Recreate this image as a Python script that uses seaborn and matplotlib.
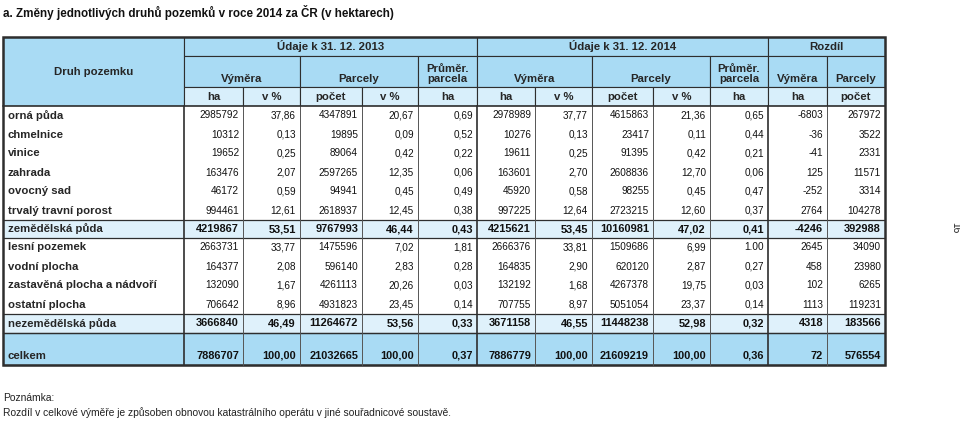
import numpy as np
import pandas as pd
import matplotlib.pyplot as plt
import seaborn as sns
from matplotlib.patches import Rectangle

# ── Data ───────────────────────────────────────────────────────────────────────
TITLE = 'a. Změny jednotlivých druhů pozemků v roce 2014 za ČR (v hektarech)'

labels = ['orná půda', 'chmelnice', 'vinice', 'zahrada', 'ovocný sad',
          'trvalý travní porost', 'zemědělská půda', 'lesní pozemek',
          'vodní plocha', 'zastavěná plocha a nádvoří', 'ostatní plocha',
          'nezemědělská půda', 'celkem']

ha_2013      = [2985792, 10312, 19652, 163476, 46172, 994461, 4219867,
                2663731, 164377, 132090, 706642, 3666840, 7886707]
pct_ha_2013  = ['37,86', '0,13', '0,25', '2,07', '0,59', '12,61', '53,51',
                '33,77', '2,08', '1,67', '8,96', '46,49', '100,00']
cnt_2013     = [4347891, 19895, 89064, 2597265, 94941, 2618937, 9767993,
                1475596, 596140, 4261113, 4931823, 11264672, 21032665]
pct_cnt_2013 = ['20,67', '0,09', '0,42', '12,35', '0,45', '12,45', '46,44',
                '7,02', '2,83', '20,26', '23,45', '53,56', '100,00']
avg_2013     = ['0,69', '0,52', '0,22', '0,06', '0,49', '0,38', '0,43',
                '1,81', '0,28', '0,03', '0,14', '0,33', '0,37']

ha_2014      = [2978989, 10276, 19611, 163601, 45920, 997225, 4215621,
                2666376, 164835, 132192, 707755, 3671158, 7886779]
pct_ha_2014  = ['37,77', '0,13', '0,25', '2,70', '0,58', '12,64', '53,45',
                '33,81', '2,90', '1,68', '8,97', '46,55', '100,00']
cnt_2014     = [4615863, 23417, 91395, 2608836, 98255, 2723215, 10160981,
                1509686, 620120, 4267378, 5051054, 11448238, 21609219]
pct_cnt_2014 = ['21,36', '0,11', '0,42', '12,70', '0,45', '12,60', '47,02',
                '6,99', '2,87', '19,75', '23,37', '52,98', '100,00']
avg_2014     = ['0,65', '0,44', '0,21', '0,06', '0,47', '0,37', '0,41',
                '1.00', '0,27', '0,03', '0,14', '0,32', '0,36']

diff_ha  = [-6803, -36, -41, 125, -252, 2764, -4246, 2645, 458, 102, 1113, 4318, 72]
diff_cnt = [267972, 3522, 2331, 11571, 3314, 104278, 392988, 34090, 23980,
            6265, 119231, 183566, 576554]

group_heads = ['Údaje k 31. 12. 2013', 'Údaje k 31. 12. 2014', 'Rozdíl']
sub_heads   = ['Výměra', 'Parcely', 'Průměr.\nparcela']
unit_heads  = ['ha', 'v %', 'počet', 'v %', 'ha',
               'ha', 'v %', 'počet', 'v %', 'ha', 'ha', 'počet']
NOTE = ['Poznámka:',
        'Rozdíl v celkové výměře je způsoben obnovou katastrálního operátu v jiné souřadnicové soustavě.']

df = pd.DataFrame({
    'ha13': ha_2013, 'p13': pct_ha_2013, 'c13': cnt_2013, 'pc13': pct_cnt_2013, 'a13': avg_2013,
    'ha14': ha_2014, 'p14': pct_ha_2014, 'c14': cnt_2014, 'pc14': pct_cnt_2014, 'a14': avg_2014,
    'dha': diff_ha, 'dc': diff_cnt}, index=labels)
kind = ['row'] * 6 + ['sum'] + ['row'] * 4 + ['sum', 'total']

# ── Layout (pixels) ────────────────────────────────────────────────────────────
col_x   = [3, 184, 243, 300, 362, 418, 477, 535, 592, 653, 710, 768, 827, 885]
head_y  = [37, 56, 87, 106]
row_h   = [19] * 6 + [18] + [19] * 5 + [32]
row_y   = np.concatenate([[106], 106 + np.cumsum(row_h)])

HEAD   = '#a9dbf4'
HEAD2  = '#d8effb'
SUMROW = '#dff1fb'
LINE   = '#2e2e2e'

sns.set_theme(style='white')
plt.rcParams['font.family'] = ['Liberation Sans', 'DejaVu Sans']

fig = plt.figure(figsize=(9.6, 4.22), dpi=100)
ax = fig.add_axes([0, 0, 1, 1])
ax.set_xlim(0, 960); ax.set_ylim(422, 0); ax.axis('off')

def cell(x0, x1, y0, y1, fc, lw=0.8):
    ax.add_patch(Rectangle((x0, y0), x1 - x0, y1 - y0, facecolor=fc,
                           edgecolor=LINE, linewidth=lw))

ax.text(3, 12, TITLE, fontsize=8.4, fontweight='bold', va='center', color='#111')

# ── Header ─────────────────────────────────────────────────────────────────────
cell(col_x[0], col_x[1], head_y[0], head_y[3], HEAD)
ax.text((col_x[0] + col_x[1]) / 2, 72, 'Druh pozemku', ha='center', va='center',
        fontsize=8.2, fontweight='bold')

spans = [(1, 6), (6, 11), (11, 13)]
for (a, b), txt in zip(spans, group_heads):
    cell(col_x[a], col_x[b], head_y[0], head_y[1], HEAD)
    ax.text((col_x[a] + col_x[b]) / 2, 46.5, txt, ha='center', va='center',
            fontsize=8.2, fontweight='bold')

sub_spans = [(1, 3, 0), (3, 5, 1), (5, 6, 2), (6, 8, 0), (8, 10, 1), (10, 11, 2),
             (11, 12, 0), (12, 13, 1)]
for a, b, k in sub_spans:
    cell(col_x[a], col_x[b], head_y[1], head_y[2], HEAD)
    ax.text((col_x[a] + col_x[b]) / 2, 84.5, sub_heads[k], ha='center', va='bottom',
            fontsize=8.2, fontweight='bold', linespacing=1.05)

for j, txt in enumerate(unit_heads):
    cell(col_x[j + 1], col_x[j + 2], head_y[2], head_y[3], HEAD2)
    ax.text((col_x[j + 1] + col_x[j + 2]) / 2, 96.5, txt, ha='center', va='center',
            fontsize=8.2, fontweight='bold')

# ── Body ───────────────────────────────────────────────────────────────────────
fills = {'row': 'white', 'sum': SUMROW, 'total': HEAD}
for i, lab in enumerate(df.index):
    y0, y1 = row_y[i], row_y[i + 1]
    bold = kind[i] != 'row'
    ty = y1 - 9 if kind[i] == 'total' else (y0 + y1) / 2
    for j in range(len(col_x) - 1):
        ax.add_patch(Rectangle((col_x[j], y0), col_x[j + 1] - col_x[j], y1 - y0,
                               facecolor=fills[kind[i]], edgecolor='none'))
    ax.text(8, ty, lab, ha='left', va='center', fontsize=8.2, fontweight='bold')
    for j, v in enumerate(df.iloc[i]):
        ax.text(col_x[j + 2] - 4, ty, str(v), ha='right', va='center',
                fontsize=7.9 if bold else 7.2,
                fontweight='bold' if bold else 'normal', color='#111')

# horizontal rules around summary rows
for i, k in enumerate(kind):
    if k != 'row':
        ax.plot([col_x[0], col_x[-1]], [row_y[i], row_y[i]], color=LINE, lw=0.9)
        ax.plot([col_x[0], col_x[-1]], [row_y[i + 1], row_y[i + 1]], color=LINE, lw=0.9)

# vertical rules
for j, x in enumerate(col_x[1:-1], start=1):
    heavy = j in (1, 6, 11)
    ax.plot([x, x], [head_y[3], row_y[-1]], color=LINE if heavy else '#555',
            lw=1.2 if heavy else 0.7)

# outer frame
ax.add_patch(Rectangle((col_x[0], head_y[0]), col_x[-1] - col_x[0], row_y[-1] - head_y[0],
                       facecolor='none', edgecolor=LINE, linewidth=1.8))
ax.plot([col_x[0], col_x[-1]], [head_y[3], head_y[3]], color=LINE, lw=1.2)

# ── Footer ─────────────────────────────────────────────────────────────────────
ax.text(3, 398, NOTE[0], fontsize=7.4, va='center', color='#222')
ax.text(3, 413, NOTE[1], fontsize=7.4, va='center', color='#222')
ax.text(955, 228, '16', fontsize=7.4, rotation=-90, ha='center', va='center', color='#222')

fig.savefig('out.png', dpi=100)
